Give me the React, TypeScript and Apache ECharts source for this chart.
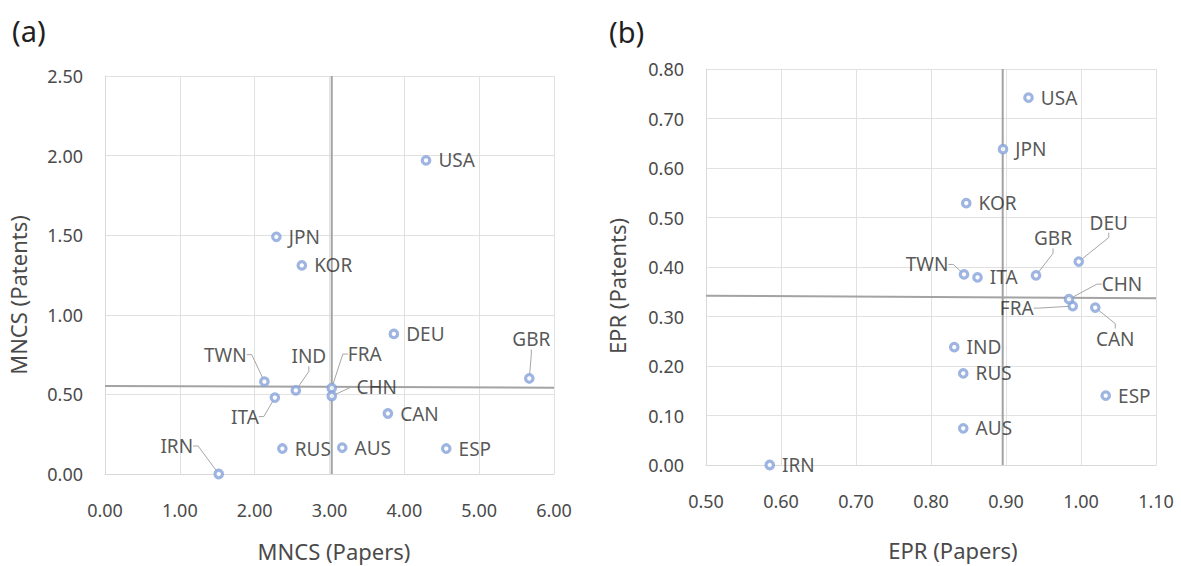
import React, { useEffect, useRef } from "react";
import * as echarts from "echarts";

// ---- Data ----
const countries = ["USA", "JPN", "KOR", "DEU", "GBR", "TWN", "IND", "FRA", "CHN", "ITA", "CAN", "IRN", "RUS", "AUS", "ESP"];
const mncsPapers = [4.29, 2.29, 2.63, 3.86, 5.67, 2.13, 2.55, 3.03, 3.03, 2.27, 3.78, 1.52, 2.37, 3.17, 4.56];
const mncsPatents = [1.97, 1.49, 1.31, 0.88, 0.6, 0.58, 0.525, 0.54, 0.49, 0.48, 0.38, 0.0, 0.16, 0.165, 0.16];
const eprPapers = [0.93, 0.896, 0.847, 0.997, 0.94, 0.844, 0.831, 0.989, 0.984, 0.862, 1.019, 0.585, 0.843, 0.843, 1.033];
const eprPatents = [0.742, 0.638, 0.529, 0.411, 0.383, 0.385, 0.238, 0.321, 0.335, 0.379, 0.318, 0.0, 0.185, 0.074, 0.14];

// reference (average) lines, in data units
const mncsMeanH = [[0, 0.553], [6, 0.542]];
const mncsMeanV = [[3.03, 0], [3.03, 2.5]];
const eprMeanH = [[0.5, 0.342], [1.1, 0.337]];
const eprMeanV = [[0.8956, 0], [0.8956, 0.8]];

// axis ranges / ticks
const mncsXAxis = { min: 0, max: 6, interval: 1 };
const mncsYAxis = { min: 0, max: 2.5, interval: 0.5 };
const eprXAxis = { min: 0.5, max: 1.1, interval: 0.1 };
const eprYAxis = { min: 0, max: 0.8, interval: 0.1 };

// label placement (pixel offsets of moved label centres from their point, with leader lines)
const labelMovesA: Record<string, [number, number]> = {
  GBR: [2, -39], TWN: [-39, -27], IND: [13, -34], FRA: [33, -34], CHN: [45, -9], ITA: [-30, 19], IRN: [-42, -28],
};
const labelMovesB: Record<string, [number, number]> = {
  DEU: [30, -39], GBR: [17, -37], TWN: [-37, -10], CHN: [53, -15], FRA: [-56, 2], CAN: [20, 31],
};

const FONT = "'Noto Sans', 'Open Sans', sans-serif";
const TICK_COLOR = "#4a4a4a";
const TITLE_COLOR = "#4a4a4a";
const LABEL_COLOR = "#2b2b2b";
const GRID_COLOR = "#e1e1e1";
const MARKER = "#86A3D9";

function buildPoints(xs: number[], ys: number[], moves: Record<string, [number, number]>) {
  return countries.map((c, i) => {
    const item: any = { name: c, value: [xs[i], ys[i]] };
    if (moves[c]) item.labelLine = { show: true };
    return item;
  });
}

function valueAxis(gridIndex: number, range: { min: number; max: number; interval: number }, isX: boolean) {
  return {
    type: "value",
    gridIndex,
    min: range.min,
    max: range.max,
    interval: range.interval,
    axisLine: { show: true, lineStyle: { color: "#d9d9d9", width: 1 } },
    axisTick: { show: false },
    splitLine: { show: true, lineStyle: { color: GRID_COLOR, width: 1 } },
    axisLabel: {
      color: TICK_COLOR,
      fontSize: 18,
      fontFamily: FONT,
      margin: isX ? 27 : 22,
      formatter: (v: number) => v.toFixed(2),
    },
  };
}

function scatterSeries(idx: number, data: any[], moves: Record<string, [number, number]>) {
  return {
    type: "scatter",
    xAxisIndex: idx,
    yAxisIndex: idx,
    symbol: "circle",
    symbolSize: 7.5,
    itemStyle: { color: "#ffffff", borderColor: MARKER, borderWidth: 3.2 },
    label: {
      show: true,
      formatter: "{b}",
      position: "right",
      distance: 7,
      color: LABEL_COLOR,
      fontSize: 19,
      lineHeight: 20,
      fontFamily: FONT,
    },
    labelLine: { show: false, length2: 5, lineStyle: { color: "#a6a6a6", width: 1 } },
    labelLayout: (p: any) => {
      const mv = moves[countries[p.dataIndex]];
      if (!mv) return {};
      const cx = p.rect.x + p.rect.width / 2;
      const cy = p.rect.y + p.rect.height / 2;
      return { x: cx + mv[0], y: cy + mv[1], align: "center", verticalAlign: "middle" };
    },
    data,
    z: 3,
  };
}

function meanLine(idx: number, data: number[][]) {
  return {
    type: "line",
    xAxisIndex: idx,
    yAxisIndex: idx,
    data,
    symbol: "none",
    silent: true,
    lineStyle: { color: "#a3a3a3", width: 2 },
    z: 2,
  };
}

export default function App() {
  const ref = useRef<HTMLDivElement>(null);

  useEffect(() => {
    document.body.style.margin = "0";
    if (!ref.current) return;
    const chart = echarts.init(ref.current, undefined, { renderer: "svg" });
    const titleStyle = { fill: TITLE_COLOR, fontSize: 22, fontFamily: FONT, align: "center", verticalAlign: "middle" };
    chart.setOption({
      animation: false,
      backgroundColor: "#ffffff",
      textStyle: { fontFamily: FONT },
      grid: [
        { left: 105, top: 76, width: 449, height: 398 },
        { left: 706, top: 69, width: 450, height: 396 },
      ],
      xAxis: [valueAxis(0, mncsXAxis, true), valueAxis(1, eprXAxis, true)],
      yAxis: [valueAxis(0, mncsYAxis, false), valueAxis(1, eprYAxis, false)],
      series: [
        meanLine(0, mncsMeanH),
        meanLine(0, mncsMeanV),
        meanLine(1, eprMeanH),
        meanLine(1, eprMeanV),
        scatterSeries(0, buildPoints(mncsPapers, mncsPatents, labelMovesA), labelMovesA),
        scatterSeries(1, buildPoints(eprPapers, eprPatents, labelMovesB), labelMovesB),
      ],
      graphic: [
        { type: "text", x: 12, y: 30, style: { text: "(a)", fill: "#1f1f1f", fontSize: 29, fontFamily: FONT, verticalAlign: "middle" } },
        { type: "text", x: 609, y: 31, style: { text: "(b)", fill: "#1f1f1f", fontSize: 29, fontFamily: FONT, verticalAlign: "middle" } },
        { type: "text", x: 334, y: 551, style: { text: "MNCS (Papers)", ...titleStyle } },
        { type: "text", x: 953, y: 550, style: { text: "EPR (Papers)", ...titleStyle } },
        { type: "text", x: 18, y: 295, rotation: Math.PI / 2, style: { text: "MNCS (Patents)", ...titleStyle } },
        { type: "text", x: 617, y: 286, rotation: Math.PI / 2, style: { text: "EPR (Patents)", ...titleStyle } },
      ],
    });
    return () => chart.dispose();
  }, []);

  return <div ref={ref} style={{ width: 1181, height: 566 }} />;
}
